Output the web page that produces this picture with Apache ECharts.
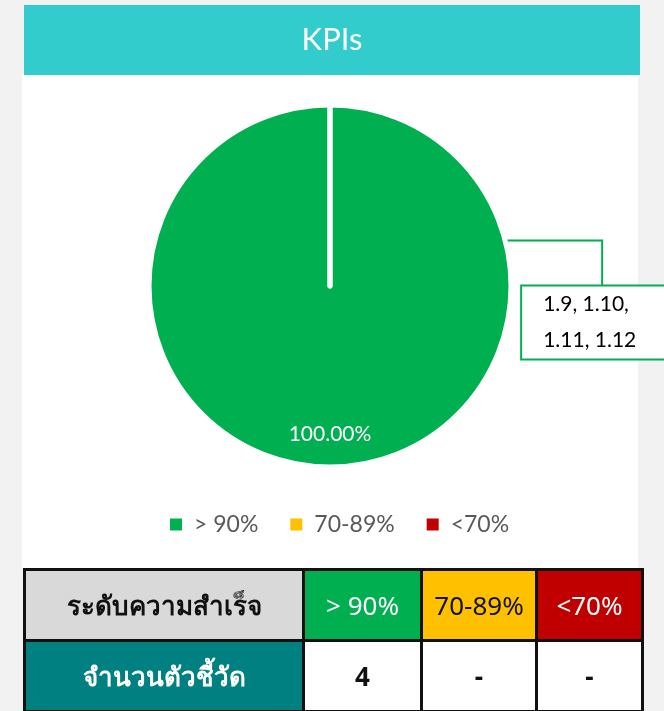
<!DOCTYPE html>
<html>
<head>
<meta charset="utf-8">
<title>KPIs</title>
<script src="https://cdn.jsdelivr.net/npm/echarts@6/dist/echarts.min.js"></script>
<style>
  html, body {
    margin: 0;
    padding: 0;
    width: 664px;
    height: 711px;
    overflow: hidden;
    background: #f2f2f2;
  }
  .panel {
    position: absolute;
    left: 22px;
    top: 75px;
    width: 616px;
    height: 494px;
    background: #fff;
  }
  .title-bar {
    position: absolute;
    left: 24px;
    top: 5px;
    width: 616px;
    height: 70px;
    background: #33cccc;
  }
  #chart {
    position: absolute;
    left: 0;
    top: 0;
    width: 664px;
    height: 711px;
  }
  #kpi-table {
    position: absolute;
    left: 23px;
    top: 568px;
    width: 618px;
    table-layout: fixed;
    border-collapse: collapse;
    font-family: 'Noto Sans', 'DejaVu Sans', sans-serif;
    font-size: 26px;
    text-align: center;
  }
  #kpi-table td {
    border: 3px solid #111;
    height: 68px;
    padding: 0;
    white-space: nowrap;
  }
</style>
</head>
<body>
  <div class="title-bar"></div>
  <div class="panel"></div>
  <div id="chart"></div>
  <table id="kpi-table">
    <colgroup>
      <col style="width:279px">
      <col style="width:118px">
      <col style="width:115px">
      <col style="width:106px">
    </colgroup>
  </table>

<script>
  // ข้อมูลกราฟ
  const levels = ['> 90%', '70-89%', '<70%'];
  const levelColors = ['#00b050', '#ffc000', '#c00000'];
  const kpiCounts = [4, 0, 0];
  const kpiCodes = ['1.9, 1.10,', '1.11, 1.12'];

  // ตาราง
  const rowHeads = ['ระดับความสำเร็จ', 'จำนวนตัวชี้วัด'];
  const countLabels = ['4', '-', '-'];

  const pieData = levels.map((name, i) => ({
    name: name,
    value: kpiCounts[i],
    itemStyle: { color: levelColors[i] }
  }));

  const calloutData = levels.map((name, i) => ({
    name: name,
    value: kpiCounts[i],
    label: { show: kpiCounts[i] > 0 },
    labelLine: { show: kpiCounts[i] > 0 }
  }));

  const myChart = echarts.init(document.getElementById('chart'));
  myChart.setOption({
    animation: false,
    title: {
      text: 'KPIs',
      left: 'center',
      top: 19,
      textStyle: {
        color: '#fff',
        fontFamily: 'Lato',
        fontWeight: 'normal',
        fontSize: 31
      }
    },
    legend: {
      data: levels,
      left: 163,
      top: 508,
      itemWidth: 14,
      itemHeight: 14,
      itemGap: 30,
      icon: 'rect',
      textStyle: {
        color: '#595959',
        fontFamily: 'Lato',
        fontSize: 23,
        padding: [0, 0, 0, 6]
      }
    },
    series: [
      {
        type: 'pie',
        center: [330, 286],
        radius: 181,
        startAngle: 90,
        percentPrecision: 2,
        data: pieData,
        itemStyle: { borderColor: '#fff', borderWidth: 5, borderCap: 'butt' },
        label: {
          position: 'inside',
          color: '#fff',
          fontFamily: 'Lato',
          fontSize: 21,
          formatter: (p) => (p.value > 0 ? p.percent.toFixed(2) + '%' : '')
        },
        labelLine: { show: false },
        labelLayout: { dy: 55 },
        emphasis: { disabled: true }
      },
      {
        type: 'pie',
        center: [330, 286],
        radius: 179,
        startAngle: 194.7,
        silent: true,
        data: calloutData,
        itemStyle: { color: 'transparent' },
        label: {
          position: 'outside',
          formatter: kpiCodes.join('\n'),
          color: '#000',
          fontFamily: 'Lato',
          fontSize: 21,
          lineHeight: 36,
          align: 'left',
          width: 121,
          padding: [0, 0, 0, 21],
          backgroundColor: '#fff',
          borderColor: '#00b050',
          borderWidth: 2
        },
        labelLine: {
          show: true,
          length: 10,
          length2: 10,
          lineStyle: { color: '#00b050', width: 2 }
        },
        labelLayout: (params) => {
          const p = params.labelLinePoints;
          if (!p) return {};
          const x0 = p[0][0];
          const y0 = p[0][1];
          return {
            x: x0 + 19,
            y: y0 + 46,
            align: 'left',
            verticalAlign: 'top',
            labelLinePoints: [[x0, y0], [x0 + 99, y0], [x0 + 99, y0 + 46]]
          };
        },
        emphasis: { disabled: true }
      }
    ]
  });

  // สร้างตาราง
  const table = document.getElementById('kpi-table');
  const r1 = table.insertRow();
  const h1 = r1.insertCell();
  h1.textContent = rowHeads[0];
  h1.style.cssText = 'background:#d9d9d9;color:#111;font-weight:bold';
  levels.forEach((lv, i) => {
    const c = r1.insertCell();
    c.textContent = lv;
    c.style.background = levelColors[i];
    c.style.color = i === 1 ? '#111' : '#fff';
  });
  const r2 = table.insertRow();
  const h2 = r2.insertCell();
  h2.textContent = rowHeads[1];
  h2.style.cssText = 'background:#008080;color:#fff;font-weight:bold';
  countLabels.forEach((v) => {
    const c = r2.insertCell();
    c.textContent = v;
    c.style.background = '#fff';
    c.style.fontWeight = 'bold';
    c.style.color = '#111';
  });
</script>
</body>
</html>
